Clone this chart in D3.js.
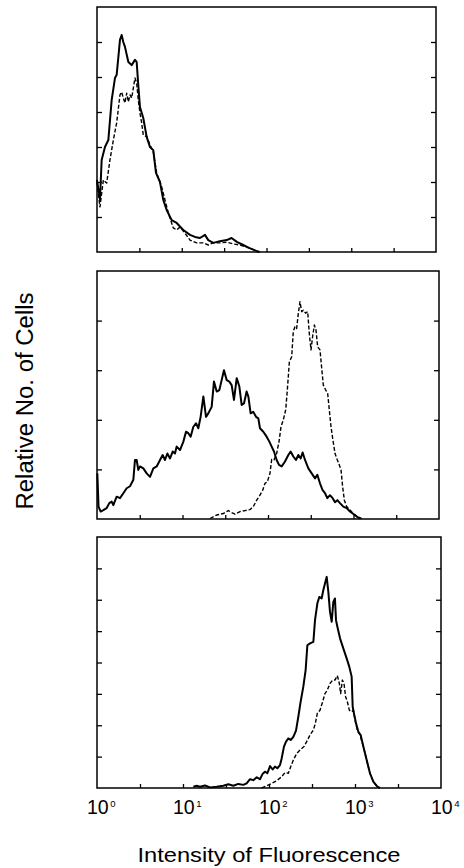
<!DOCTYPE html>
<html><head><meta charset="utf-8">
<script src="https://cdn.jsdelivr.net/npm/d3@7"></script>
<style>html,body{margin:0;padding:0;background:#fff}svg{display:block}</style>
</head><body>
<svg id="c" width="464" height="868"></svg>
<script>
// x values are log10(intensity) (decades); y values are relative counts
const xLabelExps = [0, 1, 2, 3, 4];
const xTickExps = [0.5, 1, 1.5, 2, 2.5, 3, 3.5];
const yMax = [70, 50, 80];
const yStep = 10;
const xTitle = "Intensity of Fluorescence";
const yTitle = "Relative No. of Cells";

const p1Solid = [[0,20.6],[0.035,14.9],[0.055,26.3],[0.094,30],[0.134,32],[0.173,43.4],[0.212,49.7],[0.232,50.6],[0.252,55.7],[0.271,60.6],[0.291,62],[0.31,60],[0.33,58.6],[0.37,54.3],[0.409,53.4],[0.448,54.9],[0.468,54.3],[0.487,47.7],[0.507,41.4],[0.546,38.3],[0.586,32.9],[0.625,30],[0.664,29.1],[0.696,22.6],[0.743,20],[0.782,14.9],[0.822,12],[0.881,9.1],[0.94,8.3],[1.018,6.3],[1.097,4.9],[1.156,4.3],[1.215,4],[1.274,4.9],[1.313,3.4],[1.372,2.6],[1.45,3.1],[1.53,3.4],[1.588,4],[1.65,2.9],[1.725,2],[1.8,1.1],[1.88,0.3],[1.92,0]];
const p1Dashed = [[0,20],[0.035,12.9],[0.075,20.6],[0.114,19.7],[0.153,26.3],[0.193,32],[0.232,36.9],[0.271,44.9],[0.291,45.7],[0.31,44],[0.33,42.6],[0.35,45.4],[0.37,42.9],[0.39,44.9],[0.409,44],[0.429,46.9],[0.448,49.7],[0.468,48.3],[0.487,43.4],[0.507,39.7],[0.527,36.9],[0.546,33.4],[0.586,33],[0.625,30.6],[0.664,28.6],[0.704,22.6],[0.763,18.6],[0.802,14.9],[0.842,11.1],[0.9,6.9],[0.94,6.3],[0.979,7.1],[1.038,5.4],[1.097,3.4],[1.175,2.6],[1.254,2.6],[1.313,2],[1.372,2.6],[1.45,2.6],[1.53,2.8],[1.608,2.3],[1.686,2],[1.765,1.4],[1.844,0.7],[1.9,0]];

const p2Solid = [[0.004,9.2],[0.018,2.5],[0.043,1.5],[0.074,1.8],[0.113,2.2],[0.144,3.2],[0.172,3.5],[0.191,2.8],[0.23,4.5],[0.269,4.2],[0.308,5.2],[0.347,6.2],[0.386,6.6],[0.425,7.9],[0.444,11.9],[0.464,11.9],[0.483,9.9],[0.503,10.6],[0.542,10.2],[0.581,9.2],[0.62,8.5],[0.659,10.2],[0.698,10.6],[0.737,11.9],[0.768,12.9],[0.795,11.9],[0.823,13.2],[0.854,12.2],[0.885,13.6],[0.912,13.2],[0.932,14.6],[0.971,13.9],[1.01,15.6],[1.041,17.6],[1.068,17.3],[1.095,16.6],[1.127,18.6],[1.158,19.3],[1.185,18.3],[1.212,20.6],[1.244,24.7],[1.275,20.6],[1.302,21.3],[1.341,22.6],[1.368,27.7],[1.4,25.7],[1.431,26],[1.458,28],[1.485,30],[1.517,28],[1.548,27.7],[1.575,27],[1.602,24],[1.634,28.4],[1.665,26.7],[1.692,23],[1.719,23.3],[1.75,25.7],[1.77,24.7],[1.797,21.3],[1.828,21.6],[1.86,20.6],[1.887,20.3],[1.906,18.3],[1.945,17.6],[1.984,16.6],[2.016,15.6],[2.043,14.6],[2.07,13.6],[2.101,11.9],[2.129,10.9],[2.16,10.6],[2.199,11.6],[2.238,12.9],[2.265,13.6],[2.296,12.6],[2.327,11.9],[2.355,12.9],[2.382,12.2],[2.405,13.4],[2.433,11.9],[2.472,10.2],[2.511,9.2],[2.55,8.2],[2.577,8.9],[2.608,7.2],[2.639,5.8],[2.667,5.2],[2.694,4.2],[2.725,4.8],[2.756,4.2],[2.784,3.4],[2.811,3.8],[2.842,3.2],[2.881,2.5],[2.92,2.2],[2.959,1.5],[2.998,1],[3.037,0.5],[3.076,0.1]];
const p2Dashed = [[1.322,0.1],[1.4,0.8],[1.478,1.1],[1.536,1.7],[1.575,1.3],[1.614,1],[1.673,1.5],[1.731,1.7],[1.79,1.9],[1.828,2.5],[1.868,3.8],[1.906,4.8],[1.938,5.8],[1.965,7.2],[1.992,7.5],[2.023,9.2],[2.043,12],[2.07,11.9],[2.101,13.2],[2.129,15.6],[2.152,18.6],[2.179,20],[2.207,22],[2.226,26],[2.25,31.7],[2.277,32.7],[2.296,37.8],[2.316,38.8],[2.335,38.4],[2.355,41.5],[2.374,43.8],[2.394,41.8],[2.413,42.1],[2.44,41.5],[2.464,41.8],[2.483,37.4],[2.503,34.1],[2.522,36.8],[2.542,39.1],[2.561,38.1],[2.581,34.7],[2.608,34.1],[2.628,30.4],[2.647,27],[2.675,26],[2.698,25.3],[2.717,22],[2.737,18.6],[2.756,16.3],[2.784,13.2],[2.811,11.9],[2.834,10.9],[2.854,9.9],[2.873,6.5],[2.893,3.8],[2.92,2.5],[2.959,1.8],[2.998,1.1],[3.037,0.6],[3.096,0.1]];

const p3Solid = [[1.12,0.4],[1.159,0.7],[1.198,0.4],[1.256,0.8],[1.314,0.2],[1.391,0.4],[1.469,0.7],[1.527,1.2],[1.585,0.7],[1.643,1.3],[1.701,1],[1.74,1.5],[1.779,2.8],[1.818,2.5],[1.857,3.4],[1.895,2.8],[1.926,4.5],[1.953,5.2],[1.981,4.7],[2.012,7],[2.043,5.9],[2.07,6.8],[2.097,6.3],[2.128,7.3],[2.147,9.4],[2.174,13.2],[2.198,14.8],[2.225,15.8],[2.252,15.3],[2.283,16.3],[2.314,18.3],[2.341,22.7],[2.368,27.5],[2.399,32.3],[2.426,37.6],[2.446,45.5],[2.477,46.1],[2.516,46.6],[2.535,53.5],[2.562,58.8],[2.585,60.9],[2.612,60.4],[2.632,63.1],[2.651,65.2],[2.671,67.3],[2.69,62.5],[2.709,56.2],[2.729,53],[2.748,59.3],[2.767,60.4],[2.779,53.5],[2.795,51.4],[2.826,47.7],[2.864,44.5],[2.903,41.3],[2.934,38.6],[2.961,35.5],[2.973,25.9],[2.988,23.8],[3.012,20.6],[3.039,17.9],[3.066,16.9],[3.097,13.2],[3.136,8.9],[3.174,4.7],[3.213,2],[3.26,0.4],[3.291,0]];
const p3Dashed = [[1.915,0],[1.973,0.7],[2.031,1.5],[2.089,2.3],[2.147,3.6],[2.186,4.9],[2.225,4.7],[2.252,6.8],[2.283,8.9],[2.322,11],[2.36,12.1],[2.407,13.2],[2.438,14.8],[2.477,16.9],[2.516,18.5],[2.539,20.6],[2.562,23.8],[2.593,24.8],[2.624,27.5],[2.651,30.1],[2.678,31.2],[2.709,33.3],[2.74,34.4],[2.767,34.4],[2.795,35.8],[2.818,33.3],[2.833,30.1],[2.853,34.4],[2.872,33.3],[2.891,29.1],[2.911,27.5],[2.934,24.8],[2.961,24.3],[2.981,24.8],[3,21.7],[3.027,18.5],[3.058,16.9],[3.097,13.2],[3.136,8.9],[3.174,4.7],[3.213,2],[3.26,0.4]];

const seriesSolid = [p1Solid, p2Solid, p3Solid];
const seriesDashed = [p1Dashed, p2Dashed, p3Dashed];

// layout
const boxes = [
  {top: 7, bottom: 252, left: 97, right: 436},
  {top: 271, bottom: 519, left: 97, right: 439},
  {top: 537, bottom: 788, left: 97, right: 441}
];
const FONT = "'Liberation Sans', Arial, Helvetica, sans-serif";
const svg = d3.select("#c");

boxes.forEach((b, i) => {
  const x = d3.scaleLog().domain([1, 1e4]).range([b.left, b.right]);
  const y = d3.scaleLinear().domain([0, yMax[i]]).range([b.bottom, b.top]);
  const g = svg.append("g");
  const yt = d3.range(yStep, yMax[i], yStep);

  const ax = g.append("g").attr("transform", `translate(0,${b.bottom})`)
    .call(d3.axisBottom(x).tickValues(xTickExps.map(e => Math.pow(10, e))).tickSize(-4).tickFormat(""));
  const al = g.append("g").attr("transform", `translate(${b.left},0)`)
    .call(d3.axisLeft(y).tickValues(yt).tickSize(-5).tickFormat(""));
  const ar = g.append("g").attr("transform", `translate(${b.right},0)`)
    .call(d3.axisRight(y).tickValues(yt).tickSize(-5).tickFormat(""));
  [ax, al, ar].forEach(a => {
    a.select(".domain").remove();
    a.selectAll("line").attr("stroke", "#000").attr("stroke-width", 1.3);
  });

  g.append("rect").attr("x", b.left).attr("y", b.top)
    .attr("width", b.right - b.left).attr("height", b.bottom - b.top)
    .attr("fill", "none").attr("stroke", "#000").attr("stroke-width", 1.5);

  const line = d3.line().x(d => x(Math.pow(10, d[0]))).y(d => y(d[1]));
  g.append("path").datum(seriesDashed[i]).attr("d", line)
    .attr("fill", "none").attr("stroke", "#000").attr("stroke-width", 1.4)
    .attr("stroke-dasharray", "4,2").attr("stroke-linejoin", "round");
  g.append("path").datum(seriesSolid[i]).attr("d", line)
    .attr("fill", "none").attr("stroke", "#000").attr("stroke-width", 2)
    .attr("stroke-linejoin", "round");

  if (i === boxes.length - 1) {
    xLabelExps.forEach(e => {
      const t = g.append("text").attr("x", x(Math.pow(10, e)) - 10).attr("y", 814)
        .attr("font-family", FONT).attr("font-size", 19.5).attr("fill", "#000");
      t.append("tspan").text("10");
      t.append("tspan").attr("font-size", 9.5).attr("dx", 1.5).attr("dy", -6.7).text(String(e));
    });
    g.append("text").attr("x", (b.left + b.right) / 2).attr("y", 862)
      .attr("text-anchor", "middle").attr("font-family", FONT).attr("font-size", 21)
      .attr("textLength", 263).attr("lengthAdjust", "spacingAndGlyphs")
      .attr("fill", "#000").text(xTitle);
  }
});

svg.append("text").attr("transform", "translate(33,401) rotate(-90)")
  .attr("text-anchor", "middle").attr("font-family", FONT).attr("font-size", 23.5)
  .attr("textLength", 217).attr("lengthAdjust", "spacingAndGlyphs")
  .attr("fill", "#000").text(yTitle);
</script>
</body></html>
